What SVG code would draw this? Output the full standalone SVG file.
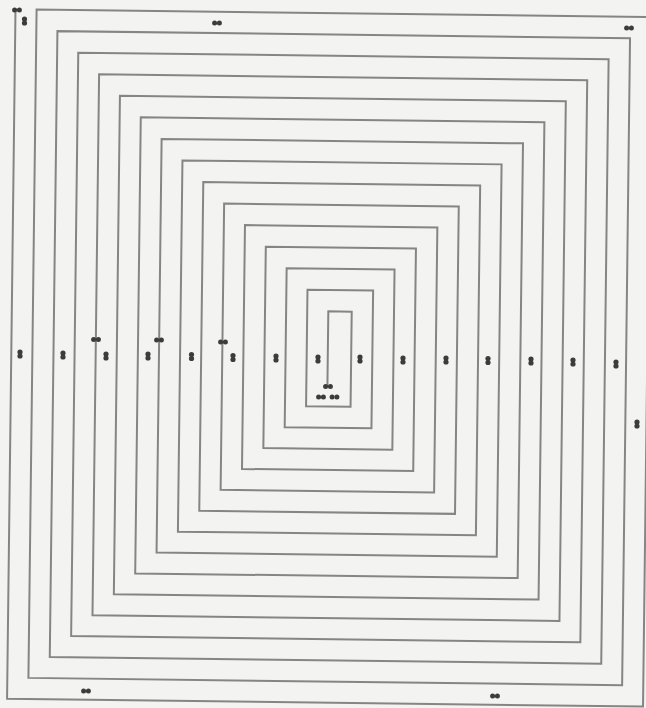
<svg xmlns="http://www.w3.org/2000/svg" width="646" height="708" viewBox="0 0 646 708">
  <style>
    .spiral { fill: none; stroke: #858585; stroke-width: 2; stroke-linejoin: miter; }
    .dot { fill: #3c3c3c; }
  </style>
  <defs>
    <g id="dv"><circle class="dot" cx="0" cy="-2" r="2.6"/><circle class="dot" cx="0" cy="2" r="2.6"/></g>
    <g id="dh"><circle class="dot" cx="-2.4" cy="0" r="2.5"/><circle class="dot" cx="2.4" cy="0" r="2.5"/></g>
  </defs>
  <rect x="0" y="0" width="646" height="708" fill="#f3f3f1"/>
  <g id="connectors" transform="rotate(0.7 323 354)">
    <path id="spiral" class="spiral" d="M11.3,12 V702.6 H647.3 V13.1 H32.4 V681.45 H626.15 V34.4 H53.5 V660.3 H605 V55.7 H74.6 V639.15 H583.85 V77 H95.7 V618 H562.7 V98.3 H116.8 V596.85 H541.55 V119.6 H137.9 V575.7 H520.4 V140.9 H159 V554.55 H499.25 V162.2 H180.1 V533.4 H478.1 V183.5 H201.2 V512.25 H456.95 V204.8 H222.3 V491.1 H435.8 V226.1 H243.4 V469.95 H414.65 V247.4 H264.5 V448.8 H393.5 V268.7 H285.6 V427.65 H372.35 V290 H306.7 V406.5 H351.2 V311.3 H327.8 V386.7"/>
  </g>
  <g id="dots">
    <use href="#dh" x="17" y="10"/>
    <use href="#dh" x="217" y="23"/>
    <use href="#dh" x="629" y="28"/>
    <use href="#dh" x="96" y="339.5"/>
    <use href="#dh" x="159" y="340"/>
    <use href="#dh" x="223" y="342"/>
    <use href="#dh" x="328" y="386.5"/>
    <use href="#dh" x="321" y="397"/>
    <use href="#dh" x="334.5" y="397"/>
    <use href="#dh" x="86" y="691"/>
    <use href="#dh" x="495" y="696"/>
    <use href="#dv" x="24.5" y="21"/>
    <use href="#dv" x="20" y="354"/>
    <use href="#dv" x="63" y="355"/>
    <use href="#dv" x="106" y="356"/>
    <use href="#dv" x="148" y="356"/>
    <use href="#dv" x="191.5" y="356.5"/>
    <use href="#dv" x="233" y="357.5"/>
    <use href="#dv" x="276" y="358"/>
    <use href="#dv" x="318" y="359"/>
    <use href="#dv" x="360" y="359"/>
    <use href="#dv" x="403" y="360"/>
    <use href="#dv" x="446" y="360"/>
    <use href="#dv" x="488" y="360.5"/>
    <use href="#dv" x="531" y="361"/>
    <use href="#dv" x="573" y="362"/>
    <use href="#dv" x="616" y="364"/>
    <use href="#dv" x="637" y="424"/>
  </g>
</svg>
